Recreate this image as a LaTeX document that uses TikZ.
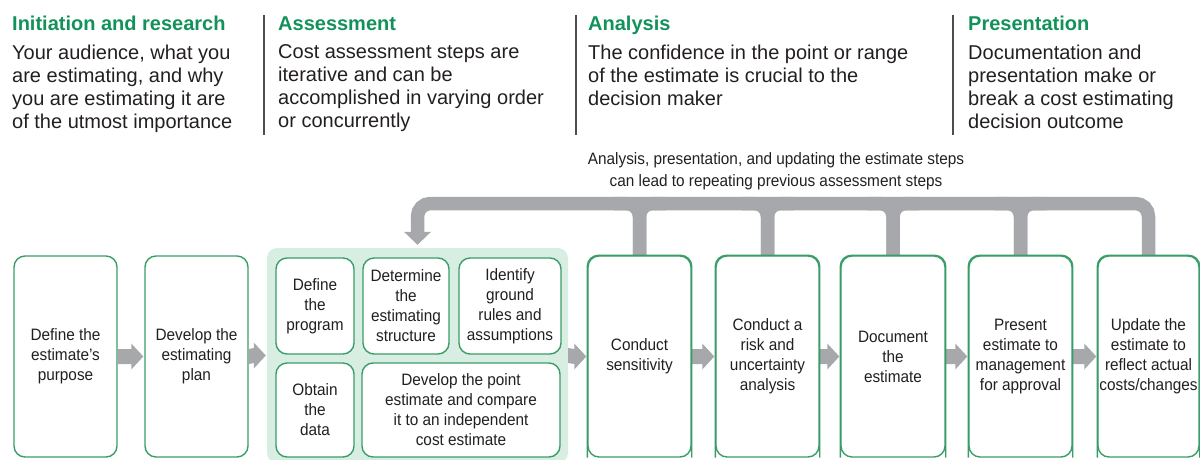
\documentclass[tikz,border=0pt]{standalone}
\usepackage{fontspec}
\setmainfont{Liberation Sans}
\newfontfamily\narrowfont{Liberation Sans}[FakeStretch=0.93]
\usetikzlibrary{calc}
\definecolor{gtitle}{HTML}{12925A}
\definecolor{gborder}{HTML}{3A9D68}
\definecolor{gfill}{HTML}{D9EEE2}
\definecolor{garrow}{HTML}{A7A8AC}
\definecolor{txt}{HTML}{231F20}
\definecolor{sepc}{HTML}{4D4D4D}
\newcommand{\blockarrow}[2]{%
  \fill[garrow] ($(#1.east)+(0,-7.5)$) -- ($(#2.west)+(-13,-7.5)$) -- ($(#2.west)+(-13,-13)$)
    -- ($(#2.west)+(-1,0)$) -- ($(#2.west)+(-13,13)$) -- ($(#2.west)+(-13,7.5)$)
    -- ($(#1.east)+(0,7.5)$) -- cycle;}
\begin{document}
\begin{tikzpicture}[x=1pt,y=-1pt,
  stepbox/.style={draw=gborder, line width=1.4pt, fill=white, rounded corners=11pt,
    align=center, inner sep=0pt, text=txt, font=\narrowfont\fontsize{16.5}{20}\selectfont},
  region/.style={fill=gfill, rounded corners=10pt, inner sep=0pt},
  phasetitle/.style={anchor=base west, inner sep=0pt, text=gtitle, font=\bfseries\fontsize{20}{23}\selectfont},
  phasetext/.style={anchor=north west, inner sep=0pt, align=left, text=txt, font=\fontsize{20}{23}\selectfont},
  note/.style={anchor=north, inner sep=0pt, align=center, text=txt, font=\narrowfont\fontsize{16.5}{22}\selectfont},
  sepline/.style={draw=sepc, line width=1.4pt},
  fb/.style={draw=garrow, line width=13.5pt, rounded corners=13pt}]
\useasboundingbox (0,0) rectangle (1200,459);

% header
\node[phasetitle] (t1) at (12,30) {Initiation and research};
\node[phasetitle] (t2) at (278,30) {Assessment};
\node[phasetitle] (t3) at (588,30) {Analysis};
\node[phasetitle] (t4) at (968,30) {Presentation};
\node[phasetext] (d1) at (12,44.5) {Your audience, what you\\are estimating, and why\\you are estimating it are\\of the utmost importance};
\node[phasetext] (d2) at (278,44.5) {Cost assessment steps are\\iterative and can be\\accomplished in varying order\\or concurrently};
\node[phasetext] (d3) at (588,44.5) {The confidence in the point or range\\of the estimate is crucial to the\\decision maker};
\node[phasetext] (d4) at (968,44.5) {Documentation and\\presentation make or\\break a cost estimating\\decision outcome};
\draw[sepline] (264,15) -- (264,135);
\draw[sepline] (576,15) -- (576,135);
\draw[sepline] (953,15) -- (953,135);

\node[note] (nt) at (776,152.5) {Analysis, presentation, and updating the estimate steps\\can lead to repeating previous assessment steps};

% assessment region
\node[region, minimum width=301pt, minimum height=215pt] (assess) at (417.5,355.5) {};

% main steps
\node[stepbox, minimum width=103pt, minimum height=201pt] (purp) at (65.5,356.5) {Define the\\estimate’s\\purpose};
\node[stepbox, minimum width=103pt, minimum height=201pt] (plan) at (196.5,356.5) {Develop the\\estimating\\plan};
\node[stepbox, minimum width=103pt, minimum height=201pt] (sens) at (639.5,356.5) {Conduct\\sensitivity};
\node[stepbox, minimum width=103pt, minimum height=201pt] (risk) at (767.5,356.5) {Conduct a\\risk and\\uncertainty\\analysis};
\node[stepbox, minimum width=104pt, minimum height=201pt] (doc) at (893,356.5) {Document\\the\\estimate};
\node[stepbox, minimum width=103pt, minimum height=201pt] (pres) at (1020.5,356.5) {Present\\estimate to\\management\\for approval};
\node[stepbox, minimum width=101pt, minimum height=201pt] (upd) at (1148.5,356.5) {Update the\\estimate to\\reflect actual\\costs/changes};

% inner assessment steps
\node[stepbox, minimum width=78pt, minimum height=96pt] (prog) at (315,306) {Define\\the\\program};
\node[stepbox, minimum width=86pt, minimum height=96pt] (struct) at (406,306) {Determine\\the\\estimating\\structure};
\node[stepbox, minimum width=102pt, minimum height=96pt] (rules) at (510,306) {Identify\\ground\\rules and\\assumptions};
\node[stepbox, minimum width=78pt, minimum height=94pt] (data) at (315,410) {Obtain\\the\\data};
\node[stepbox, minimum width=198pt, minimum height=94pt] (point) at (461,410) {Develop the point\\estimate and compare\\it to an independent\\cost estimate};

% forward arrows
\blockarrow{purp}{plan}
\blockarrow{plan}{assess}
\blockarrow{assess}{sens}
\blockarrow{sens}{risk}
\blockarrow{risk}{doc}
\blockarrow{doc}{pres}
\blockarrow{pres}{upd}

% feedback loop
\coordinate (bar) at (0,203.5);
\draw[fb] (upd.north) -- (upd.north |- bar) -- (assess.north |- bar) -- ($(assess.north)+(0,-16)$);
\fill[garrow] ($(assess.north)+(-13.5,-16)$) -- ($(assess.north)+(13.5,-16)$) -- ($(assess.north)+(0,-3)$) -- cycle;
\foreach \n in {sens,risk,doc,pres}{
  \draw[fb] ($(\n.north |- bar)+(-26,0)$) -- (\n.north |- bar) -- (\n.north);
  \draw[fb] ($(\n.north |- bar)+(26,0)$) -- (\n.north |- bar) -- (\n.north);
}
% box tops over the bar ends
\foreach \n in {sens,risk,doc,pres,upd}{
  \draw[gborder, line width=1.4pt, rounded corners=11pt] (\n.south west) -- (\n.north west) -- (\n.north east) -- (\n.south east);
}
\end{tikzpicture}
\end{document}
